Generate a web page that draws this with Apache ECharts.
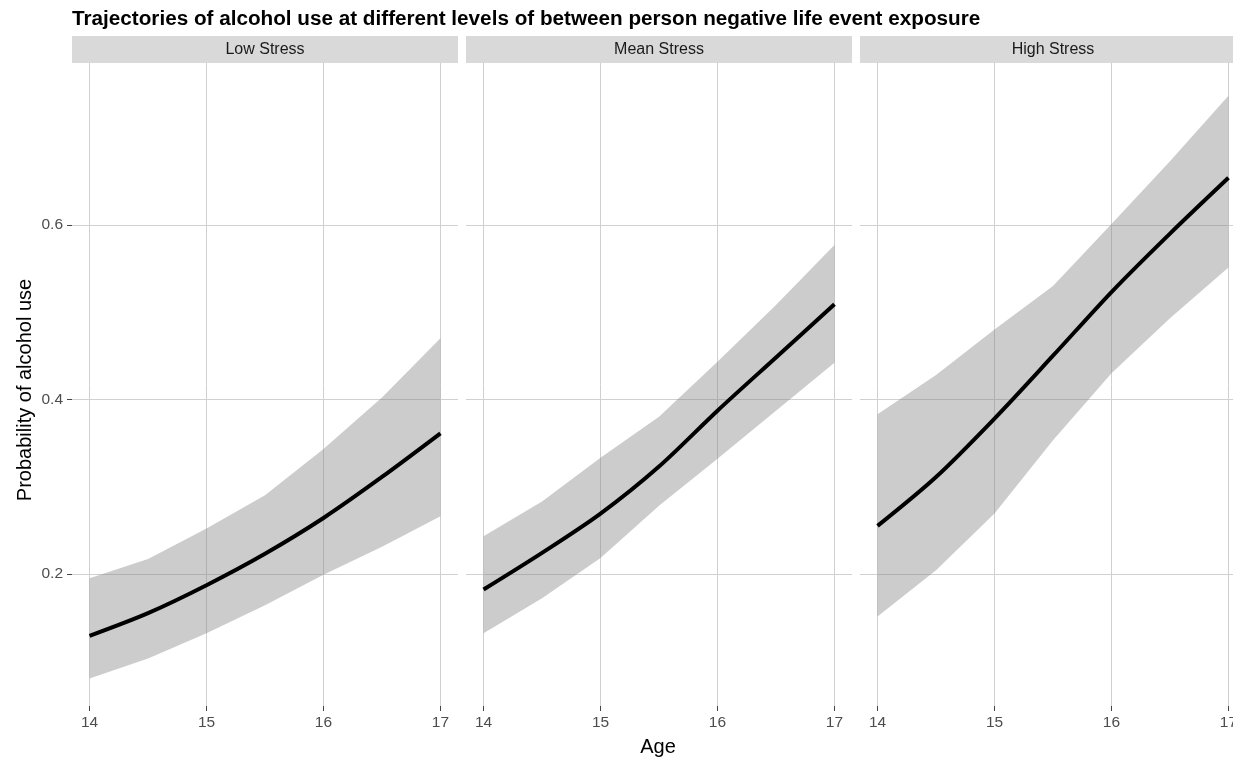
<!DOCTYPE html>
<html>
<head>
<meta charset="utf-8">
<title>Trajectories of alcohol use</title>
<script src="https://cdn.jsdelivr.net/npm/echarts@6/dist/echarts.min.js"></script>
<style>
  html, body { margin: 0; padding: 0; background: #fff; }
  #chart { width: 1233px; height: 760px; }
</style>
</head>
<body>
<div id="chart"></div>
<script>
  // 数据
  var panels = ["Low Stress", "Mean Stress", "High Stress"];
  var ages = [14, 14.5, 15, 15.5, 16, 16.5, 17];
  var xTicks = [14, 15, 16, 17];
  var yTicks = [0.2, 0.4, 0.6];

  var lowFit = [0.129, 0.155, 0.187, 0.223, 0.264, 0.311, 0.361];
  var lowLo = [0.080, 0.103, 0.132, 0.164, 0.199, 0.231, 0.266];
  var lowHi = [0.195, 0.217, 0.252, 0.290, 0.343, 0.402, 0.470];

  var meanFit = [0.182, 0.224, 0.269, 0.323, 0.387, 0.448, 0.509];
  var meanLo = [0.132, 0.172, 0.218, 0.278, 0.332, 0.387, 0.442];
  var meanHi = [0.243, 0.283, 0.333, 0.380, 0.443, 0.508, 0.577];

  var highFit = [0.255, 0.311, 0.378, 0.450, 0.523, 0.590, 0.654];
  var highLo = [0.151, 0.204, 0.269, 0.353, 0.430, 0.493, 0.551];
  var highHi = [0.383, 0.428, 0.480, 0.530, 0.601, 0.673, 0.748];

  var fits = [lowFit, meanFit, highFit];
  var los = [lowLo, meanLo, highLo];
  var his = [lowHi, meanHi, highHi];

  var font = "'Liberation Sans', Arial, sans-serif";
  var panelLeft = [72, 466, 860];
  var panelW = 386;
  var plotTop = 63;
  var plotH = 643;

  var grids = [], xAxes = [], yAxes = [], series = [], graphics = [];

  function pairs(ys) {
    return ages.map(function (a, i) { return [a, ys[i]]; });
  }

  // 置信带：整条多边形，坐标由坐标轴换算
  function bandRenderer(lo, hi) {
    return function (params, api) {
      if (params.dataIndex !== 0) return;
      var pts = [];
      for (var i = 0; i < ages.length; i++) pts.push(api.coord([ages[i], hi[i]]));
      for (var j = ages.length - 1; j >= 0; j--) pts.push(api.coord([ages[j], lo[j]]));
      return {
        type: "polygon",
        shape: { points: pts },
        style: { fill: "rgba(128,128,128,0.4)" },
        silent: true
      };
    };
  }

  for (var p = 0; p < 3; p++) {
    grids.push({
      left: panelLeft[p], top: plotTop, width: panelW, height: plotH,
      outerBoundsMode: "none", containLabel: false
    });
    xAxes.push({
      gridIndex: p, type: "value", min: 13.85, max: 17.15,
      axisLine: { show: false },
      splitLine: { show: false },
      axisTick: { show: true, length: 5, customValues: xTicks, lineStyle: { color: "#444" } },
      axisLabel: {
        customValues: xTicks, color: "#4d4d4d", fontSize: 15.5, fontFamily: font, margin: 9,
        formatter: function (v) { return Number.isInteger(v) ? String(v) : ""; }
      }
    });
    yAxes.push({
      gridIndex: p, type: "value", min: 0.0485, max: 0.7855,
      axisLine: { show: false },
      splitLine: { show: false },
      axisTick: { show: p === 0, length: 5, customValues: yTicks, lineStyle: { color: "#444" } },
      axisLabel: {
        show: p === 0, customValues: yTicks, color: "#4d4d4d", fontSize: 15.5, fontFamily: font, margin: 9,
        formatter: function (v) { return v.toFixed(1); }
      }
    });

    var gridLines = xTicks.map(function (t) { return { xAxis: t }; })
      .concat(yTicks.map(function (t) { return { yAxis: t }; }));

    series.push({
      type: "custom", xAxisIndex: p, yAxisIndex: p, z: 2, clip: true, silent: true,
      data: pairs(fits[p]),
      renderItem: bandRenderer(los[p], his[p]),
      markLine: {
        z: 1, silent: true, symbol: "none", animation: false,
        label: { show: false },
        lineStyle: { color: "#d0d0d0", width: 1, type: "solid" },
        emphasis: { disabled: true },
        data: gridLines
      }
    });
    series.push({
      type: "line", xAxisIndex: p, yAxisIndex: p, z: 3,
      data: pairs(fits[p]), smooth: 0.3, symbol: "none", silent: true,
      lineStyle: { color: "#000", width: 4 }
    });

    // 分面标题条
    graphics.push({
      type: "rect", left: panelLeft[p], top: 36, z: 0,
      shape: { width: panelW, height: 27 },
      style: { fill: "#d9d9d9" }
    });
    graphics.push({
      type: "text", x: panelLeft[p] + panelW / 2, y: 50,
      style: {
        text: panels[p], fill: "#1a1a1a", font: "16px " + font,
        textAlign: "center", textVerticalAlign: "middle"
      }
    });
  }

  graphics.push({
    type: "text", x: 658, y: 747,
    style: { text: "Age", fill: "#000", font: "20px " + font, textAlign: "center", textVerticalAlign: "middle" }
  });
  graphics.push({
    type: "text", x: 25, y: 390, rotation: Math.PI / 2,
    style: { text: "Probability of alcohol use", fill: "#000", font: "20px " + font, textAlign: "center", textVerticalAlign: "middle" }
  });

  var myChart = echarts.init(document.getElementById("chart"));
  myChart.setOption({
    animation: false,
    backgroundColor: "#fff",
    title: {
      text: "Trajectories of alcohol use at different levels of between person negative life event exposure",
      left: 67, top: 4,
      textStyle: { fontSize: 20.7, fontWeight: "bold", color: "#000", fontFamily: font }
    },
    grid: grids,
    xAxis: xAxes,
    yAxis: yAxes,
    series: series,
    graphic: graphics
  });
</script>
</body>
</html>
